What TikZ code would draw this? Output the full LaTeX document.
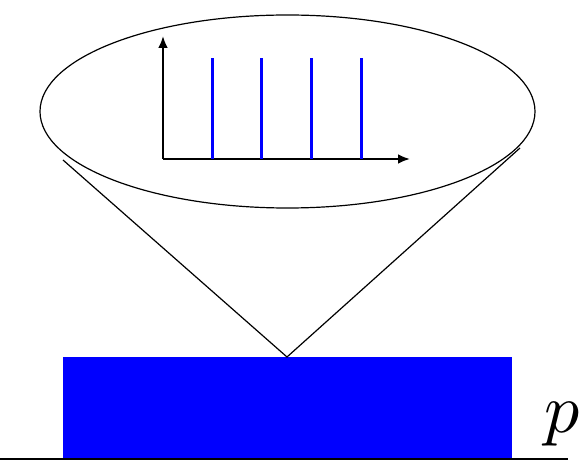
\documentclass[tikz,border=0pt]{standalone}
\usepackage{tikz}
\usetikzlibrary{arrows.meta}
\definecolor{barblue}{rgb}{0,0,1}

\begin{document}
\begin{tikzpicture}[x=1pt,y=1pt,
      thin line/.style={draw,line width=1.2pt},
      axis/.style={line width=2.8pt,-{Latex[length=12pt,width=10pt]}},
      bar/.style={draw=barblue,line width=3pt}]
    \useasboundingbox (0,0) rectangle (579,464);
    % sample and base line
    \fill[barblue] (63,5) rectangle (512,107);
    \draw[line width=2pt] (0,5) coordinate (base) -- (568,5) coordinate (baseend);
    \node[anchor=base west,inner sep=0pt,scale=7] (plab)
      at (543,31) {$p$};
    % cone and magnifier
    \coordinate (tip) at (287,107);
    \coordinate (cl) at (63,304);
    \coordinate (cr) at (520,316);
    \draw[thin line] (cl) -- (tip) -- (cr);
    \draw[thin line] (287.5,352.5) ellipse [x radius=247.5,y radius=96.5];
    % spectrum inside
    \coordinate (orig) at (163,305);
    \draw[axis] (orig) -- (163,428);
    \draw[axis] (orig) -- (410,305);
    \foreach \x in {212,261,311,361} {
      \draw[bar] (\x,305) -- (\x,406);}
  \end{tikzpicture}
\end{document}
